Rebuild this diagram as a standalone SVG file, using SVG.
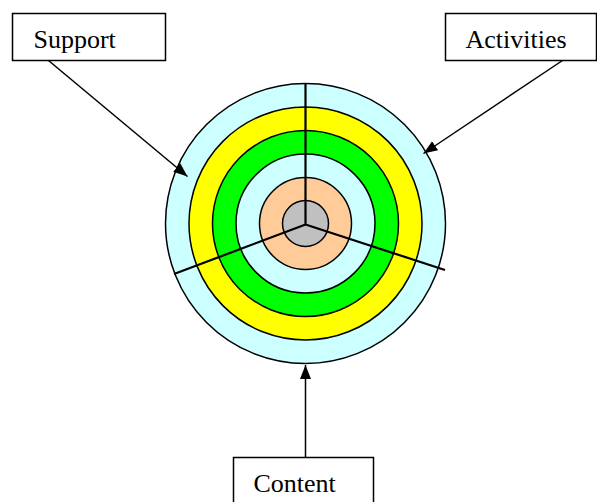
<svg xmlns="http://www.w3.org/2000/svg" width="597" height="502" viewBox="0 0 597 502">
<style>
.box{fill:#fff;stroke:#000;stroke-width:1.5}
.lbl{font-family:"Liberation Serif","Times New Roman",serif;font-size:26px;fill:#000}
.ring{stroke:#000;stroke-width:1.5}
.conn{stroke:#000;stroke-width:1.5;fill:none;marker-end:url(#ah)}
.div{stroke:#000;stroke-width:2.2;fill:none}
</style>
<defs>
<marker id="ah" markerWidth="15" markerHeight="12" refX="14" refY="5.5" orient="auto" markerUnits="userSpaceOnUse">
<path d="M0,0 L14,5.5 L0,11 Z" fill="#000"/>
</marker>
</defs>
<rect width="597" height="502" fill="#fff"/>
<g id="target">
<circle class="ring" cx="305.5" cy="223.5" r="140" fill="#CCFFFF"/>
<circle class="ring" cx="305.5" cy="223.5" r="116.5" fill="#FFFF00"/>
<circle class="ring" cx="305.5" cy="223.5" r="93" fill="#00FF00"/>
<circle class="ring" cx="305.5" cy="223.5" r="69.5" fill="#CCFFFF"/>
<circle class="ring" cx="305.5" cy="223.5" r="46" fill="#FFCC99"/>
<circle class="ring" cx="305.5" cy="223.5" r="23" fill="#C0C0C0"/>
<path class="div" d="M305.5,83.5 L305.5,224.5 L174,274 M305.5,224.5 L445,270"/>
</g>
<g id="support">
<rect class="box" x="12.5" y="13.5" width="153" height="47"/>
<text class="lbl" x="33.5" y="47.5">Support</text>
</g>
<g id="activities">
<rect class="box" x="445.5" y="13.5" width="151" height="47"/>
<text class="lbl" x="465.5" y="47.5">Activities</text>
</g>
<g id="content">
<rect class="box" x="233.5" y="457.5" width="140" height="50"/>
<text class="lbl" x="253.5" y="491.5">Content</text>
</g>
<g id="connectors">
<line class="conn" x1="48.5" y1="60.5" x2="187.5" y2="176.5"/>
<line class="conn" x1="562.5" y1="60.5" x2="423.5" y2="153.5"/>
<line class="conn" x1="305.5" y1="457.5" x2="305.5" y2="365"/>
</g>
</svg>
